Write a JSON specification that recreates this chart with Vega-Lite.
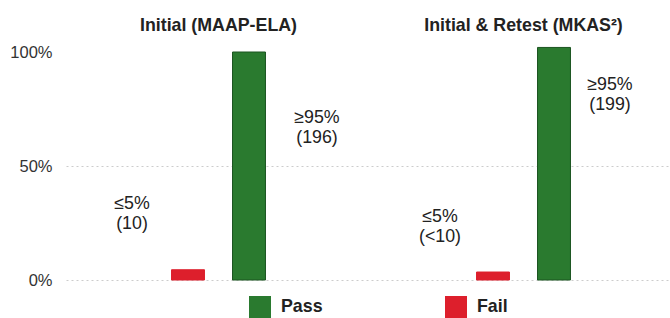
{
  "$schema": "https://vega.github.io/schema/vega-lite/v6.json",
  "padding": {"left": 9, "top": 17, "right": 0, "bottom": 0},
  "background": "white",
  "config": {
    "font": "Liberation Sans",
    "view": {"stroke": null},
    "facet": {"spacing": 0}
  },
  "data": {
    "values": [
      {"test": "Initial (MAAP-ELA)", "outcome": "Fail", "value": 4.5, "label": "≤5%\n(10)"},
      {"test": "Initial (MAAP-ELA)", "outcome": "Pass", "value": 100, "label": "≥95%\n(196)"},
      {"test": "Initial & Retest (MKAS²)", "outcome": "Fail", "value": 3.5, "label": "≤5%\n(<10)"},
      {"test": "Initial & Retest (MKAS²)", "outcome": "Pass", "value": 102, "label": "≥95%\n(199)"}
    ]
  },
  "facet": {
    "column": {
      "field": "test",
      "type": "nominal",
      "sort": ["Initial (MAAP-ELA)", "Initial & Retest (MKAS²)"],
      "header": {
        "title": null,
        "labelFontSize": 17.8,
        "labelFontWeight": "bold",
        "labelColor": "#222222",
        "labelPadding": 11
      }
    }
  },
  "spec": {
    "width": 305,
    "height": 228,
    "encoding": {
      "x": {
        "field": "outcome",
        "type": "nominal",
        "axis": null,
        "scale": {"domain": ["s1", "Fail", "Pass", "s2"], "paddingInner": 0.46, "paddingOuter": 0.73}
      },
      "y": {
        "field": "value",
        "type": "quantitative",
        "scale": {"domain": [0, 100], "nice": false, "clamp": false},
        "axis": {
          "title": null,
          "values": [0, 50, 100],
          "labelExpr": "datum.value + '%'",
          "labelFontSize": 16.5,
          "labelColor": "#333333",
          "labelPadding": 14,
          "domain": false,
          "ticks": false,
          "grid": true,
          "gridColor": "#cccccc",
          "gridDash": [2, 3],
          "gridOpacity": {"condition": {"test": "datum.value === 100", "value": 0}, "value": 1}
        }
      }
    },
    "layer": [
      {
        "mark": {"type": "bar", "strokeWidth": 1, "clip": false},
        "encoding": {
          "color": {
            "field": "outcome",
            "type": "nominal",
            "scale": {"domain": ["Pass", "Fail"], "range": ["#2a7a2f", "#dd1f2c"]},
            "legend": {
              "title": null,
              "orient": "none",
              "legendX": 183,
              "legendY": 244,
              "direction": "horizontal",
              "symbolType": "square",
              "symbolSize": 484,
              "symbolStrokeWidth": 0,
              "symbolOpacity": 1,
              "labelFontSize": 17.8,
              "labelFontWeight": "bold",
              "labelColor": "#222222",
              "labelOffset": 10,
              "columnPadding": 122
            }
          },
          "stroke": {
            "field": "outcome",
            "type": "nominal",
            "scale": {"domain": ["Pass", "Fail"], "range": ["#1b5420", "#dd1f2c"]},
            "legend": null
          }
        }
      },
      {
        "transform": [{"filter": "datum.test === 'Initial (MAAP-ELA)' && datum.outcome === 'Fail'"}],
        "mark": {"type": "text", "lineBreak": "\n", "fontSize": 17.8, "lineHeight": 20, "color": "#222222", "dx": -56, "dy": -66, "baseline": "middle"},
        "encoding": {"text": {"field": "label"}}
      },
      {
        "transform": [{"filter": "datum.test === 'Initial (MAAP-ELA)' && datum.outcome === 'Pass'"}],
        "mark": {"type": "text", "lineBreak": "\n", "fontSize": 17.8, "lineHeight": 20, "color": "#222222", "dx": 68, "dy": 66, "baseline": "middle"},
        "encoding": {"text": {"field": "label"}}
      },
      {
        "transform": [{"filter": "datum.test === 'Initial & Retest (MKAS²)' && datum.outcome === 'Fail'"}],
        "mark": {"type": "text", "lineBreak": "\n", "fontSize": 17.8, "lineHeight": 20, "color": "#222222", "dx": -53, "dy": -55, "baseline": "middle"},
        "encoding": {"text": {"field": "label"}}
      },
      {
        "transform": [{"filter": "datum.test === 'Initial & Retest (MKAS²)' && datum.outcome === 'Pass'"}],
        "mark": {"type": "text", "lineBreak": "\n", "fontSize": 17.8, "lineHeight": 20, "color": "#222222", "dx": 56, "dy": 38, "baseline": "middle"},
        "encoding": {"text": {"field": "label"}}
      }
    ]
  }
}
